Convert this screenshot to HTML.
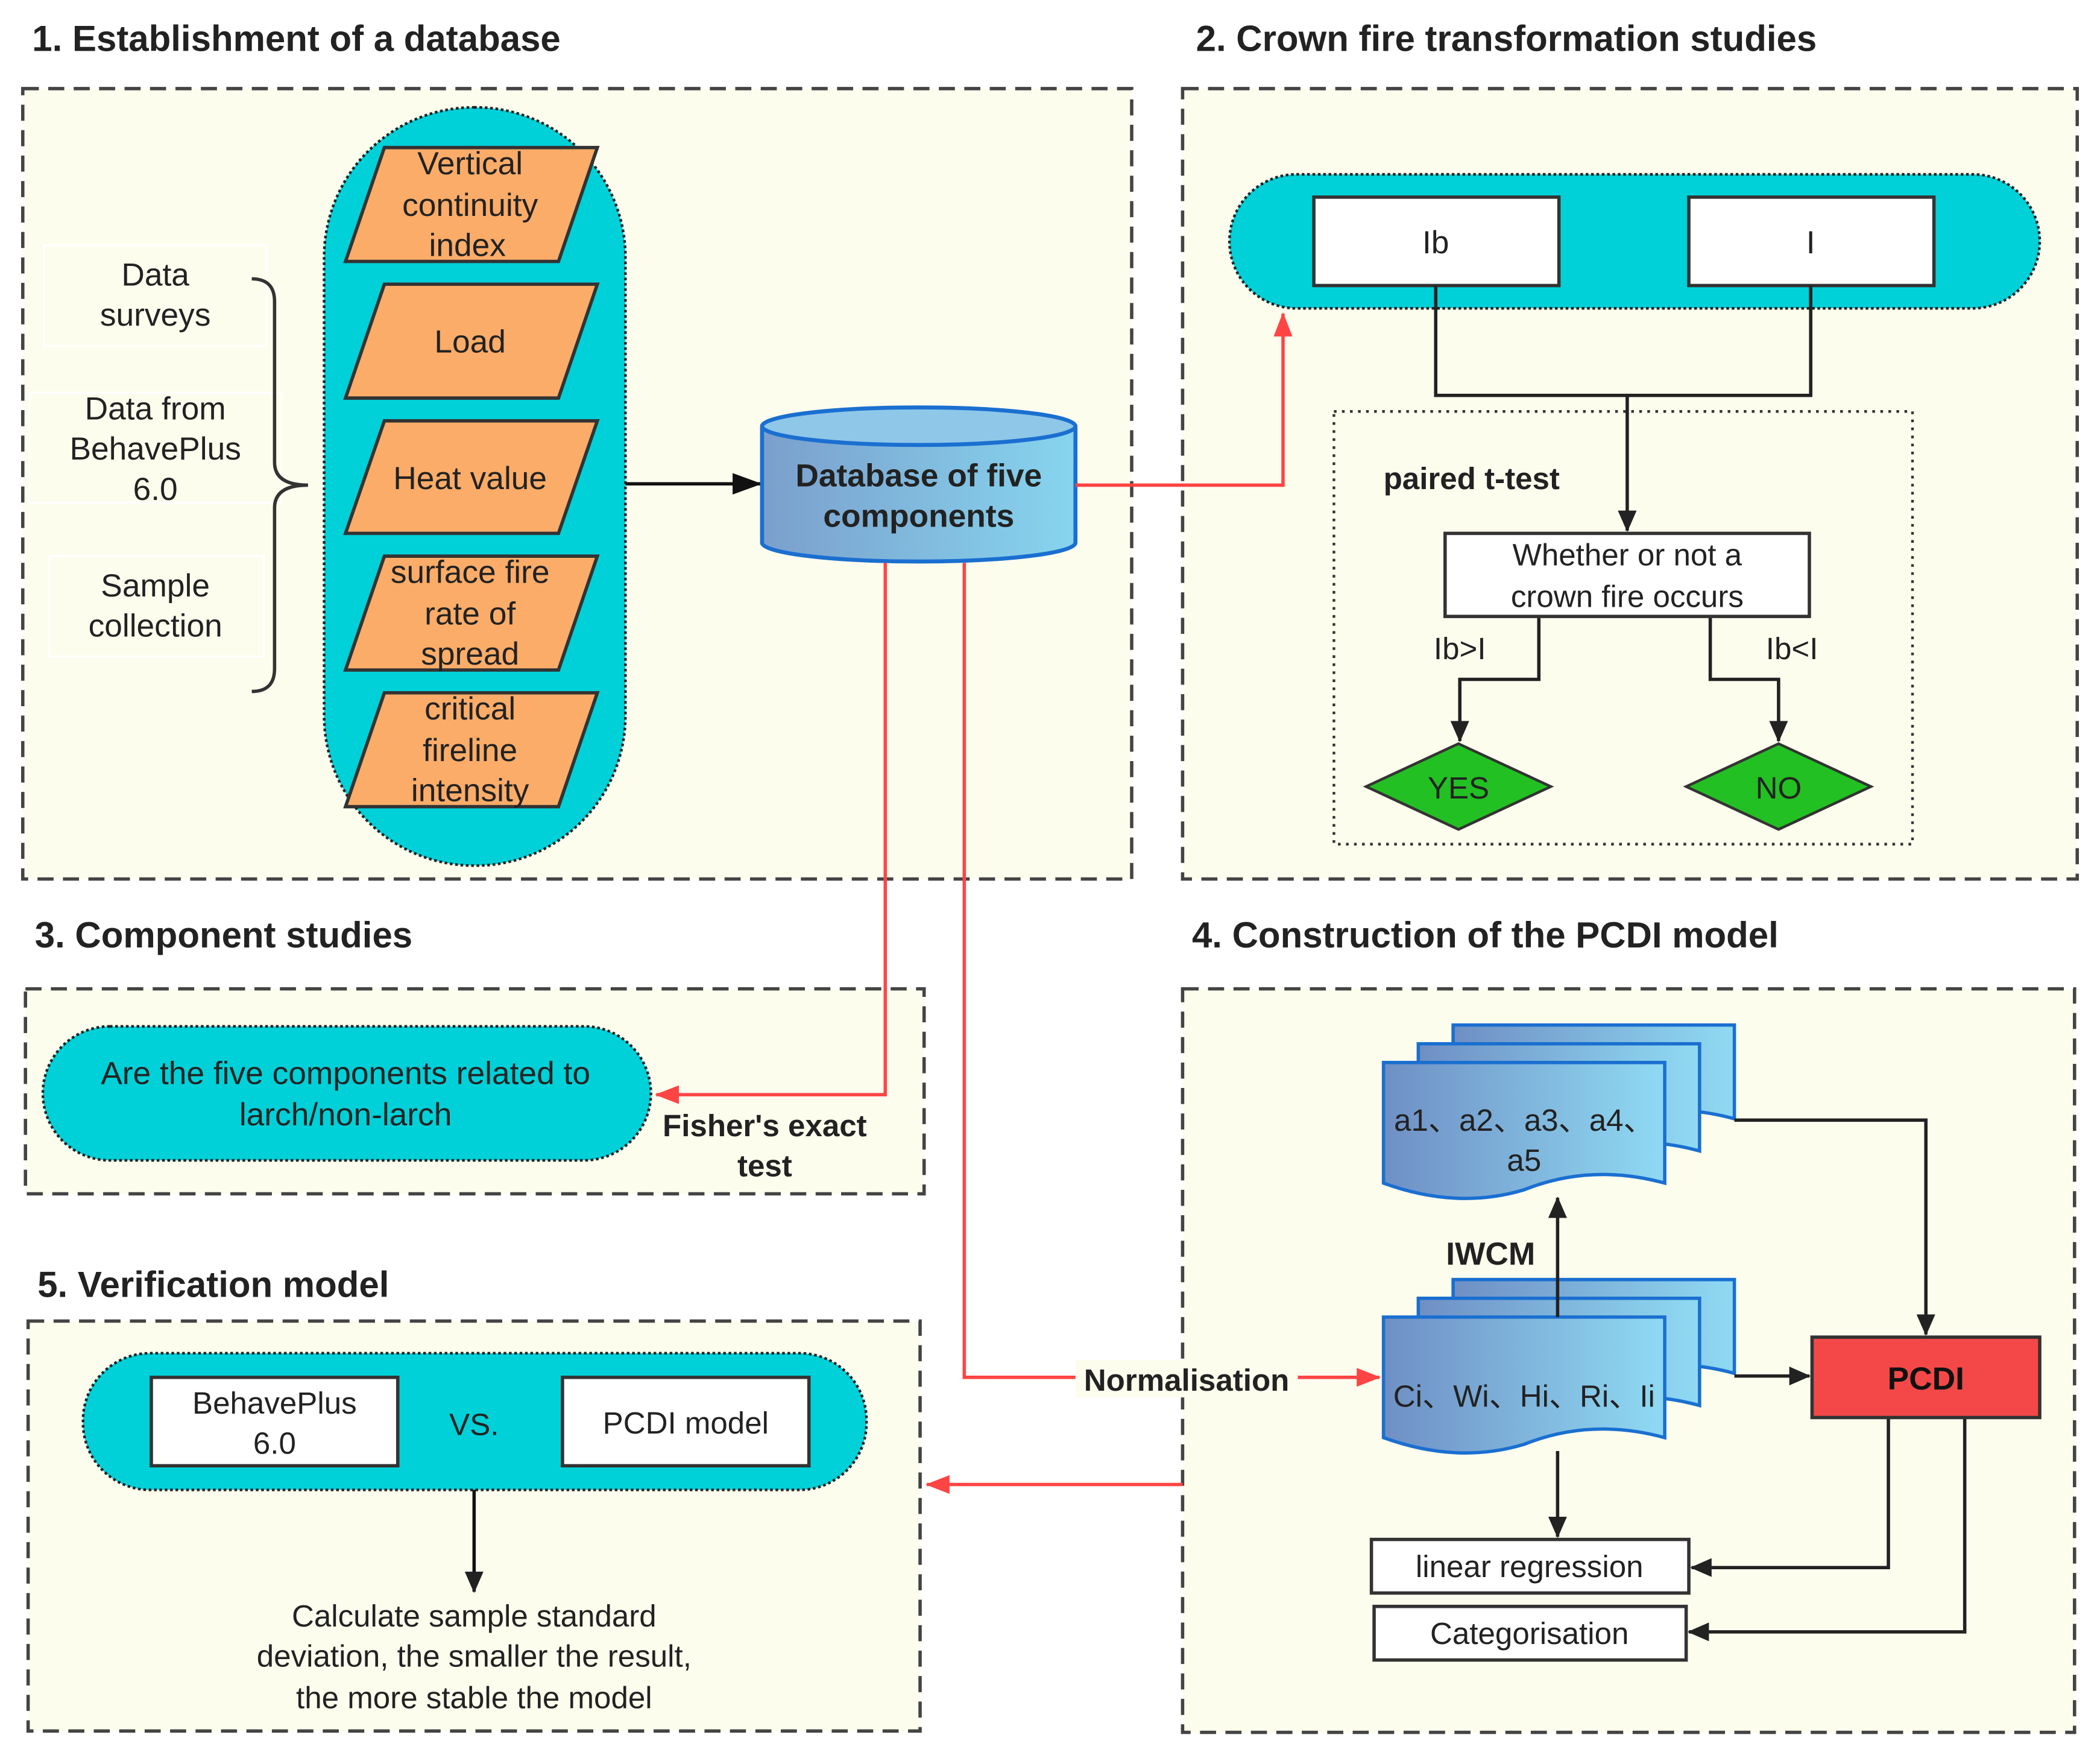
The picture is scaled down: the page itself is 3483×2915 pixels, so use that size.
<!DOCTYPE html>
<html><head><meta charset="utf-8"><style>
html,body{margin:0;padding:0;background:#fff}
svg{display:block}
text{font-family:"Liberation Sans",sans-serif;fill:#222}
</style></head><body>
<svg width="3483" height="2915" viewBox="0 0 1568 1312" xmlns="http://www.w3.org/2000/svg">
<defs>
<linearGradient id="cyl" x1="0" x2="1" y1="0" y2="0"><stop offset="0" stop-color="#7b9fcc"/><stop offset="1" stop-color="#86d5ef"/></linearGradient>
<linearGradient id="doc" x1="0" x2="1" y1="0" y2="0"><stop offset="0" stop-color="#6f8fc4"/><stop offset="1" stop-color="#8fdaf3"/></linearGradient>
<marker id="abl" markerWidth="22" markerHeight="16" refX="21" refY="8" orient="auto" markerUnits="userSpaceOnUse"><path d="M0,0 L22,8 L0,16 z" fill="#111"/></marker>
<marker id="ar" markerWidth="18" markerHeight="14" refX="17" refY="7" orient="auto" markerUnits="userSpaceOnUse"><path d="M0,0 L18,7 L0,14 z" fill="#f44"/></marker>
<marker id="ak" markerWidth="16" markerHeight="14" refX="15" refY="7" orient="auto" markerUnits="userSpaceOnUse"><path d="M0,0 L16,7 L0,14 z" fill="#222"/></marker>
</defs>
<rect width="1568" height="1312" fill="#fff"/>
<g font-weight="bold" font-size="27">
<text x="24" y="38">1. Establishment of a database</text>
<text x="893" y="38">2. Crown fire transformation studies</text>
<text x="26" y="707">3. Component studies</text>
<text x="890" y="707">4. Construction of the PCDI model</text>
<text x="28" y="968">5. Verification model</text>
</g>
<g fill="#fdfdee" stroke="#444" stroke-width="2.5" stroke-dasharray="12,7">
<rect x="17" y="66" width="828" height="590"/>
<rect x="883" y="66" width="668" height="590"/>
<rect x="19" y="738" width="671" height="153"/>
<rect x="883" y="738" width="666" height="555"/>
<rect x="21" y="986" width="666" height="306"/>
</g>
<!-- Panel 1 -->
<rect x="242" y="80" width="225" height="566" rx="112" fill="#00d0d8" stroke="#222" stroke-width="2" stroke-dasharray="2,2"/>
<g fill="#fbac68" stroke="#333" stroke-width="2.5">
<polygon points="287,110 446,110 417,195 258,195"/>
<polygon points="287,212 446,212 417,297 258,297"/>
<polygon points="287,314 446,314 417,398 258,398"/>
<polygon points="287,415 446,415 417,500 258,500"/>
<polygon points="287,517 446,517 417,602 258,602"/>
</g>
<g font-size="24" text-anchor="middle">
<text x="351" y="130">Vertical</text><text x="351" y="161">continuity</text><text x="349" y="191">index</text>
<text x="351" y="263">Load</text>
<text x="351" y="365">Heat value</text>
<text x="351" y="435">surface fire</text><text x="351" y="466">rate of</text><text x="351" y="496">spread</text>
<text x="351" y="537">critical</text><text x="351" y="568">fireline</text><text x="351" y="598">intensity</text>
<text x="116" y="213">Data</text><text x="116" y="243">surveys</text>
<text x="116" y="313">Data from</text><text x="116" y="343">BehavePlus</text><text x="116" y="373">6.0</text>
<text x="116" y="445">Sample</text><text x="116" y="475">collection</text>
</g>
<g fill="none" stroke="#fff" stroke-width="1.5"><rect x="33" y="183" width="166" height="75"/><rect x="22" y="293" width="188" height="82"/><rect x="37" y="415" width="160" height="75"/></g>
<path d="M188,208 Q205,208 205,225 L205,345 Q205,362 230,362 Q205,362 205,379 L205,499 Q205,516 188,516" fill="none" stroke="#333" stroke-width="2.5"/>
<line x1="467" y1="361" x2="568" y2="361" stroke="#111" stroke-width="2.5" marker-end="url(#abl)"/>
<path d="M569,318 L569,405 A117,14 0 0 0 803,405 L803,318" fill="url(#cyl)" stroke="#1a6fd0" stroke-width="3"/>
<ellipse cx="686" cy="318" rx="117" ry="14" fill="#8fc7e8" stroke="#1a6fd0" stroke-width="3"/>
<g font-size="24" font-weight="bold" text-anchor="middle"><text x="686" y="363">Database of five</text><text x="686" y="393">components</text></g>
<!-- red lines -->
<g fill="none" stroke="#f44" stroke-width="2.5">
<polyline points="803,362 958,362 958,234" marker-end="url(#ar)"/>
<polyline points="661,420 661,817 490,817" marker-end="url(#ar)"/>
<polyline points="720,420 720,1028 1030,1028" marker-end="url(#ar)"/>
<line x1="883" y1="1108" x2="692" y2="1108" marker-end="url(#ar)"/>
</g>
<rect x="803" y="1015" width="166" height="28" fill="#fdfdee"/>
<text x="886" y="1038" font-size="23" font-weight="bold" text-anchor="middle">Normalisation</text>
<!-- Panel 2 -->
<rect x="918" y="130" width="605" height="100" rx="50" fill="#00d0d8" stroke="#222" stroke-width="2" stroke-dasharray="2,2"/>
<g fill="#fff" stroke="#333" stroke-width="2.5"><rect x="981" y="147" width="183" height="66"/><rect x="1261" y="147" width="183" height="66"/></g>
<g font-size="24" text-anchor="middle"><text x="1072" y="189">Ib</text><text x="1352" y="189">I</text></g>
<rect x="996" y="307" width="432" height="323" fill="none" stroke="#333" stroke-width="2" stroke-dasharray="2,4"/>
<g fill="none" stroke="#222" stroke-width="2.5">
<polyline points="1072,213 1072,295 1352,295 1352,213"/>
<line x1="1215" y1="295" x2="1215" y2="396" marker-end="url(#ak)"/>
<polyline points="1149,460 1149,507 1090,507 1090,553" marker-end="url(#ak)"/>
<polyline points="1277,460 1277,507 1328,507 1328,553" marker-end="url(#ak)"/>
</g>
<text x="1033" y="365" font-size="23" font-weight="bold">paired t-test</text>
<rect x="1079" y="398" width="272" height="62" fill="#fff" stroke="#333" stroke-width="2.5"/>
<g font-size="23" text-anchor="middle"><text x="1215" y="422">Whether or not a</text><text x="1215" y="453">crown fire occurs</text>
<text x="1090" y="492">Ib&gt;I</text><text x="1338" y="492">Ib&lt;I</text></g>
<g fill="#22c022" stroke="#333" stroke-width="2"><polygon points="1020,587 1089,555 1158,587 1089,619"/><polygon points="1259,587 1328,555 1397,587 1328,619"/></g>
<g font-size="23" text-anchor="middle"><text x="1089" y="596">YES</text><text x="1328" y="596">NO</text></g>
<!-- Panel 3 -->
<rect x="32" y="766" width="454" height="100" rx="50" fill="#00d0d8" stroke="#222" stroke-width="2" stroke-dasharray="2,2"/>
<g font-size="24" text-anchor="middle"><text x="258" y="809">Are the five components related to</text><text x="258" y="840">larch/non-larch</text></g>
<g font-size="23" font-weight="bold" text-anchor="middle"><text x="571" y="848">Fisher's exact</text><text x="571" y="878">test</text></g>
<!-- Panel 4 documents -->
<g stroke="#1a6fd0" stroke-width="2.5" fill="url(#doc)">
<path d="M1085,765 h210 v70 q-55,-15 -105,5 q-50,15 -105,-5 z"/>
<path d="M1059,779 h210 v80 q-55,-15 -105,5 q-50,15 -105,-5 z"/>
<path d="M1033,793 h210 v90 q-55,-15 -105,5 q-50,15 -105,-5 z"/>
<path d="M1085,955 h210 v70 q-55,-15 -105,5 q-50,15 -105,-5 z"/>
<path d="M1059,969 h210 v80 q-55,-15 -105,5 q-50,15 -105,-5 z"/>
<path d="M1033,983 h210 v90 q-55,-15 -105,5 q-50,15 -105,-5 z"/>
</g>
<g font-size="23" text-anchor="middle"><text x="1138" y="844">a1、a2、a3、a4、</text><text x="1138" y="874">a5</text><text x="1138" y="1050">Ci、Wi、Hi、Ri、Ii</text></g>
<text x="1113" y="944" font-size="24" font-weight="bold" text-anchor="middle">IWCM</text>
<g fill="none" stroke="#222" stroke-width="2.5">
<line x1="1163" y1="983" x2="1163" y2="894" marker-end="url(#ak)"/>
<polyline points="1295,836 1438,836 1438,996" marker-end="url(#ak)"/>
<line x1="1295" y1="1027" x2="1351" y2="1027" marker-end="url(#ak)"/>
<line x1="1163" y1="1083" x2="1163" y2="1147" marker-end="url(#ak)"/>
<polyline points="1410,1058 1410,1170 1263,1170" marker-end="url(#ak)"/>
<polyline points="1467,1058 1467,1218 1261,1218" marker-end="url(#ak)"/>
</g>
<rect x="1353" y="998" width="170" height="60" fill="#f44848" stroke="#333" stroke-width="2.5"/>
<text x="1438" y="1037" font-size="24" font-weight="bold" text-anchor="middle" style="fill:#111">PCDI</text>
<g fill="#fff" stroke="#333" stroke-width="2.5"><rect x="1024" y="1149" width="237" height="40"/><rect x="1026" y="1199" width="233" height="40"/></g>
<g font-size="23" text-anchor="middle"><text x="1142" y="1177">linear regression</text><text x="1142" y="1227">Categorisation</text></g>
<!-- Panel 5 -->
<rect x="62" y="1010" width="585" height="102" rx="50" fill="#00d0d8" stroke="#222" stroke-width="2" stroke-dasharray="2,2"/>
<g fill="#fff" stroke="#333" stroke-width="2.5"><rect x="113" y="1028" width="184" height="66"/><rect x="420" y="1028" width="184" height="66"/></g>
<g font-size="23" text-anchor="middle"><text x="205" y="1055">BehavePlus</text><text x="205" y="1085">6.0</text><text x="354" y="1071">VS.</text><text x="512" y="1070">PCDI model</text>
<text x="354" y="1214">Calculate sample standard</text><text x="354" y="1244">deviation, the smaller the result,</text><text x="354" y="1275">the more stable the model</text></g>
<line x1="354" y1="1112" x2="354" y2="1188" stroke="#111" stroke-width="2.5" marker-end="url(#ak)"/>
</svg>
</body></html>
